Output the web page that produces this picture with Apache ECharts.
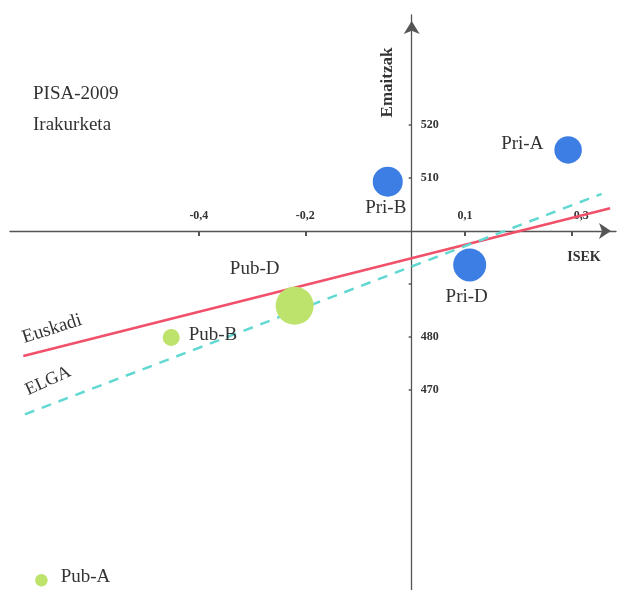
<!DOCTYPE html>
<html><head><meta charset="utf-8">
<script src="https://cdn.jsdelivr.net/npm/echarts@6/dist/echarts.min.js"></script>
<style>html,body{margin:0;padding:0;background:#fff}#c{width:617px;height:590px}</style>
</head><body><div id="c"></div>
<script>
// ---- data ----
const groupNames = ['Pri-A', 'Pri-B', 'Pri-D', 'Pub-D', 'Pub-B', 'Pub-A'];
const isek = [0.294, -0.045, 0.109, -0.220, -0.452, -0.696];
const score = [515.3, 509.3, 493.6, 485.9, 479.9, 434.1];
const dotSize = [27.5, 30, 33, 38, 17, 12.5];
const euskadiX = [-0.730, 0.373];
const euskadiY = [476.4, 504.3];
const elgaX = [-0.727, 0.357];
const elgaY = [465.4, 507.0];
const xTickValues = [-0.4, -0.2, 0.1, 0.3];
const yTickValues = [520, 510, 490, 480, 470];
const yLabelValues = [520, 510, 480, 470];
const xAxisAt = 500;   // score where the ISEK axis crosses
const yAxisAt = 0;     // ISEK where the score axis crosses

// ---- layout / styles ----
const xMin = -0.755, xMax = 0.384, yMin = 432.26, yMax = 540.75;
const G = { left: 10, right: 1, top: 15, bottom: 0 };
const W = 617, H = 590;
const gw = W - G.left - G.right, gh = H - G.top - G.bottom;
const FONT = '"Liberation Serif", serif';
const BLUE = '#3d7ee4';
const GREEN = '#bde36c';
const RED = '#f0506a';
const CYAN = '#62d8d2';
const AXIS = '#555';
const labelStyles = {
  'Pri-A': { position: 'left', distance: 11, offset: [0, -6] },
  'Pri-B': { position: 'bottom', distance: 2, offset: [-2, 0] },
  'Pri-D': { position: 'bottom', distance: 6, offset: [-3, 0] },
  'Pub-D': { position: 'top', distance: 8, offset: [-40, 0] },
  'Pub-B': { position: 'right', distance: 9, offset: [0, -2] },
  'Pub-A': { position: 'right', distance: 13, offset: [0, -3] }
};
// grids carrying the two crossing axes, placed through the same scales
const xAxisGridHeight = (yMax - xAxisAt) / (yMax - yMin) * gh;
const yAxisGridLeft = G.left + (yAxisAt - xMin) / (xMax - xMin) * gw;

const chart = echarts.init(document.getElementById('c'), null, { renderer: 'canvas' });
chart.setOption({
  animation: false,
  backgroundColor: '#fff',
  grid: [
    { left: G.left, right: G.right, top: G.top, bottom: G.bottom },
    { left: G.left, right: G.right, top: G.top, height: xAxisGridHeight },
    { left: yAxisGridLeft, right: G.right, top: G.top, bottom: G.bottom }
  ],
  xAxis: [
    { gridIndex: 0, type: 'value', min: xMin, max: xMax, show: false },
    { gridIndex: 1, type: 'value', min: xMin, max: xMax, position: 'bottom',
      axisLine: { onZero: false, symbol: ['none', 'arrow'], symbolSize: [12, 12], symbolOffset: [0, -5],
        lineStyle: { color: AXIS, width: 1.3 } },
      axisTick: { show: true, customValues: xTickValues, length: 5, lineStyle: { color: AXIS, width: 2 } },
      axisLabel: { customValues: xTickValues, inside: true, margin: 9, color: '#333', fontFamily: FONT, fontSize: 12, fontWeight: 'bold',
        formatter: v => v === 0.3 ? '{s|' + String(v).replace('.', ',') + '}' : String(v).replace('.', ','),
        rich: { s: { padding: [0, 0, 0, 20], color: '#333', fontFamily: FONT, fontSize: 12, fontWeight: 'bold' } } },
      splitLine: { show: false } },
    { gridIndex: 2, type: 'value', min: 0, max: 1, show: false }
  ],
  yAxis: [
    { gridIndex: 0, type: 'value', min: yMin, max: yMax, show: false },
    { gridIndex: 1, type: 'value', min: 0, max: 1, show: false },
    { gridIndex: 2, type: 'value', min: yMin, max: yMax, position: 'left',
      axisLine: { show: true, onZero: false, symbol: ['none', 'arrow'], symbolSize: [12, 13], symbolOffset: [0, -6],
        lineStyle: { color: AXIS, width: 1.3 } },
      axisTick: { show: true, customValues: yTickValues, length: 3, lineStyle: { color: AXIS, width: 1.5 } },
      axisLabel: { customValues: yLabelValues, inside: true, margin: 9, color: '#333', fontFamily: FONT, fontSize: 12, fontWeight: 'bold' },
      splitLine: { show: false } }
  ],
  series: [{
    type: 'line', name: 'Euskadi', symbol: 'none', silent: true, xAxisIndex: 0, yAxisIndex: 0,
    data: euskadiX.map((x, i) => [x, euskadiY[i]]),
    lineStyle: { color: RED, width: 2.5 }, z: 3
  }, {
    type: 'line', name: 'ELGA', symbol: 'none', silent: true, xAxisIndex: 0, yAxisIndex: 0,
    data: elgaX.map((x, i) => [x, elgaY[i]]),
    lineStyle: { color: CYAN, width: 2.5, type: [10, 8] }, z: 3
  }, {
    type: 'scatter', z: 4, xAxisIndex: 0, yAxisIndex: 0,
    data: groupNames.map((n, i) => ({
      name: n, value: [isek[i], score[i]], symbolSize: dotSize[i],
      itemStyle: { color: n.indexOf('Pri') === 0 ? BLUE : GREEN, opacity: 1 },
      label: Object.assign({ show: true, formatter: '{b}', color: '#333', fontFamily: FONT, fontSize: 19 }, labelStyles[n])
    }))
  }],
  graphic: [
    { type: 'text', x: 33, y: 94.5, style: { text: 'PISA-2009', font: '19px ' + FONT, fill: '#333', textVerticalAlign: 'middle' } },
    { type: 'text', x: 33, y: 125, style: { text: 'Irakurketa', font: '19px ' + FONT, fill: '#333', textVerticalAlign: 'middle' } },
    { type: 'text', x: 387.5, y: 82.5, rotation: Math.PI / 2, style: { text: 'Emaitzak', font: 'bold 17px ' + FONT, fill: '#333', textAlign: 'center', textVerticalAlign: 'middle' } },
    { type: 'text', x: 584, y: 257, style: { text: 'ISEK', font: 'bold 14px ' + FONT, fill: '#333', textAlign: 'center', textVerticalAlign: 'middle' } },
    { type: 'text', x: 52, y: 329, rotation: 0.31, style: { text: 'Euskadi', font: '19px ' + FONT, fill: '#333', textAlign: 'center', textVerticalAlign: 'middle' } },
    { type: 'text', x: 48, y: 381, rotation: 0.43, style: { text: 'ELGA', font: '18px ' + FONT, fill: '#333', textAlign: 'center', textVerticalAlign: 'middle' } }
  ]
});
</script>
</body></html>
